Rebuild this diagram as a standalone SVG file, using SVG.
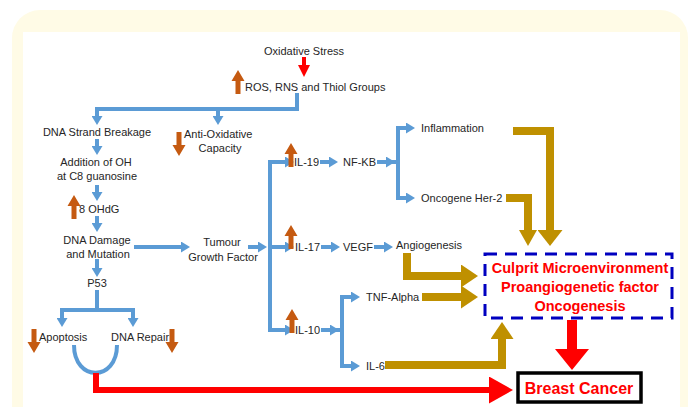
<svg xmlns="http://www.w3.org/2000/svg" xmlns:xlink="http://www.w3.org/1999/xlink" width="694" height="407" viewBox="0 0 694 407">
<style>
.t{font-family:"Liberation Sans",Arial,sans-serif;font-size:11px;fill:#262626}
.m{text-anchor:middle}
.b{fill:none;stroke:#5b9bd5;stroke-width:4}
.g{fill:none;stroke:#bf9000;stroke-width:8}
.r{fill:none;stroke:#ff0000}
.rt{font-family:"Liberation Sans",Arial,sans-serif;font-weight:bold;fill:#ff0000;text-anchor:middle}
</style>
<defs>
<marker id="bh" markerUnits="userSpaceOnUse" viewBox="0 0 9 11" markerWidth="9" markerHeight="11" refX="2" refY="5.5" orient="auto"><path d="M0,0L9,5.5L0,11z" fill="#5b9bd5"/></marker>
<marker id="gh" markerUnits="userSpaceOnUse" viewBox="0 0 17 23" markerWidth="17" markerHeight="23" refX="3" refY="11.5" orient="auto"><path d="M0,0L17,11.5L0,23z" fill="#bf9000"/></marker>
<marker id="gw" markerUnits="userSpaceOnUse" viewBox="0 0 16 25" markerWidth="16" markerHeight="25" refX="3" refY="12.5" orient="auto"><path d="M0,0L16,12.5L0,25z" fill="#bf9000"/></marker>
<marker id="gn" markerUnits="userSpaceOnUse" viewBox="0 0 16 18" markerWidth="16" markerHeight="18" refX="3" refY="9" orient="auto"><path d="M0,0L16,9L0,18z" fill="#bf9000"/></marker>
<marker id="r1" markerUnits="userSpaceOnUse" viewBox="0 0 12 12" markerWidth="12" markerHeight="12" refX="2" refY="6" orient="auto"><path d="M0,0L12,6L0,12z" fill="#ff0000"/></marker>
<marker id="r2" markerUnits="userSpaceOnUse" viewBox="0 0 21 34" markerWidth="21" markerHeight="34" refX="2" refY="17" orient="auto"><path d="M0,0L21,17L0,34z" fill="#ff0000"/></marker>
<marker id="r3" markerUnits="userSpaceOnUse" viewBox="0 0 24 27" markerWidth="24" markerHeight="27" refX="2" refY="13.5" orient="auto"><path d="M0,0L24,13.5L0,27z" fill="#ff0000"/></marker>
<path id="up" d="M0,0L6.5,11L2.5,11L2.5,24L-2.5,24L-2.5,11L-6.5,11z" fill="#c55a11"/>
<path id="dn" d="M0,24L6.5,13L2.5,13L2.5,0L-2.5,0L-2.5,13L-6.5,13z" fill="#c55a11"/>
</defs>
<rect width="694" height="407" fill="#ffffff"/>
<rect x="12" y="10" width="676" height="430" rx="28" fill="#fffbe6"/>
<rect x="23" y="32" width="657" height="380" fill="#ffffff"/>

<g id="connectors">
<path class="r" stroke-width="4" d="M304,57V67" marker-end="url(#r1)"/>
<path class="b" d="M297,93V109H97V118" marker-end="url(#bh)"/>
<path class="b" d="M218,109V118" marker-end="url(#bh)"/>
<path class="b" d="M97,139V148" marker-end="url(#bh)"/>
<path class="b" d="M97,185V194" marker-end="url(#bh)"/>
<path class="b" d="M97,216V225" marker-end="url(#bh)"/>
<path class="b" d="M134,247H183" marker-end="url(#bh)"/>
<path class="b" d="M248,247H260" marker-end="url(#bh)"/>
<path class="b" d="M97,259V270" marker-end="url(#bh)"/>
<path class="b" d="M97,290V310"/>
<path class="b" d="M97,310H62V320" marker-end="url(#bh)"/>
<path class="b" d="M97,310H133V320" marker-end="url(#bh)"/>
<path class="b" d="M74,345C74,382 117,382 117,345"/>
<path class="b" stroke-width="6" d="M270,247V162H287" marker-end="url(#bh)"/>
<path class="b" stroke-width="6" d="M270,247V330H287" marker-end="url(#bh)"/>
<path class="b" d="M270,247H287" marker-end="url(#bh)"/>
<path class="b" d="M320,162H331" marker-end="url(#bh)"/>
<path class="b" d="M377,162H388" marker-end="url(#bh)"/>
<path class="b" stroke-width="5" d="M388,162H398"/>
<path class="b" stroke-width="5" d="M398,162V128H408" marker-end="url(#bh)"/>
<path class="b" stroke-width="5" d="M398,162V198H408" marker-end="url(#bh)"/>
<path class="b" d="M321,247H333" marker-end="url(#bh)"/>
<path class="b" d="M374,247H386" marker-end="url(#bh)"/>
<path class="b" d="M321,330H332" marker-end="url(#bh)"/>
<path class="b" stroke-width="5" d="M332,330H342"/>
<path class="b" stroke-width="5" d="M342,330V297H353" marker-end="url(#bh)"/>
<path class="b" stroke-width="5" d="M342,330V366H353" marker-end="url(#bh)"/>
<path class="g" stroke-width="9" d="M513,131H550V233" marker-end="url(#gw)"/>
<path class="g" d="M506,198H528V233" marker-end="url(#gn)"/>
<path class="g" d="M407,253V276H464" marker-end="url(#gh)"/>
<path class="g" d="M422,297H464" marker-end="url(#gh)"/>
<path class="g" d="M385,365H502V336" marker-end="url(#gh)"/>
<path class="r" stroke-width="10" d="M572,320V351" marker-end="url(#r2)"/>
<path class="r" stroke-width="6" d="M96,373V390H491" marker-end="url(#r3)"/>
</g>

<g id="oxidative-stress"><text class="t m" x="304" y="55">Oxidative Stress</text></g>
<g id="ros"><use href="#up" x="238" y="70"/><text class="t" x="245" y="91">ROS, RNS and Thiol Groups</text></g>
<g id="dna-strand-breakage"><text class="t m" x="97" y="136">DNA Strand Breakage</text></g>
<g id="anti-oxidative"><use href="#dn" x="179" y="132"/><text class="t" x="184" y="138">Anti-Oxidative</text><text class="t m" x="220" y="152">Capacity</text></g>
<g id="addition-oh"><text class="t m" x="96" y="166">Addition of OH</text><text class="t m" x="97" y="180">at C8 guanosine</text></g>
<g id="ohdg"><use href="#up" x="74" y="195"/><text class="t" x="79" y="213">8 OHdG</text></g>
<g id="dna-damage"><text class="t m" x="97" y="244">DNA Damage</text><text class="t m" x="98" y="258">and Mutation</text></g>
<g id="tumour"><text class="t m" x="222" y="246">Tumour</text><text class="t m" x="223" y="261">Growth Factor</text></g>
<g id="p53"><text class="t m" x="97" y="287">P53</text></g>
<g id="apoptosis"><use href="#dn" x="34" y="329"/><text class="t" x="39" y="341">Apoptosis</text></g>
<g id="dna-repair"><use href="#dn" x="172" y="329"/><text class="t" x="111" y="341">DNA Repair</text></g>
<g id="il19"><use href="#up" x="291" y="143"/><text class="t" x="294" y="166">IL-19</text></g>
<g id="nfkb"><text class="t" x="343" y="166">NF-KB</text></g>
<g id="inflammation"><text class="t" x="421" y="132">Inflammation</text></g>
<g id="her2"><text class="t" x="421" y="202">Oncogene Her-2</text></g>
<g id="il17"><use href="#up" x="291" y="225"/><text class="t" x="295" y="251">IL-17</text></g>
<g id="vegf"><text class="t" x="343" y="251">VEGF</text></g>
<g id="angiogenesis"><text class="t" x="396" y="249">Angiogenesis</text></g>
<g id="il10"><use href="#up" x="292" y="309"/><text class="t" x="295" y="334">IL-10</text></g>
<g id="tnf"><text class="t" x="366" y="301">TNF-Alpha</text></g>
<g id="il6"><text class="t" x="366" y="370">IL-6</text></g>
<g id="microenvironment">
<rect x="485" y="254" width="187" height="64" fill="none" stroke="#0000c0" stroke-width="3" stroke-dasharray="12,8"/>
<text class="rt" x="580" y="273" font-size="14.5">Culprit Microenvironment</text>
<text class="rt" x="580" y="292" font-size="14.5">Proangiogenetic factor</text>
<text class="rt" x="580" y="311" font-size="14.5">Oncogenesis</text>
</g>
<g id="breast-cancer">
<rect x="518" y="373" width="123" height="29" fill="#ffffff" stroke="#000000" stroke-width="3.5"/>
<text class="rt" x="579" y="394" font-size="16">Breast Cancer</text>
</g>
</svg>
